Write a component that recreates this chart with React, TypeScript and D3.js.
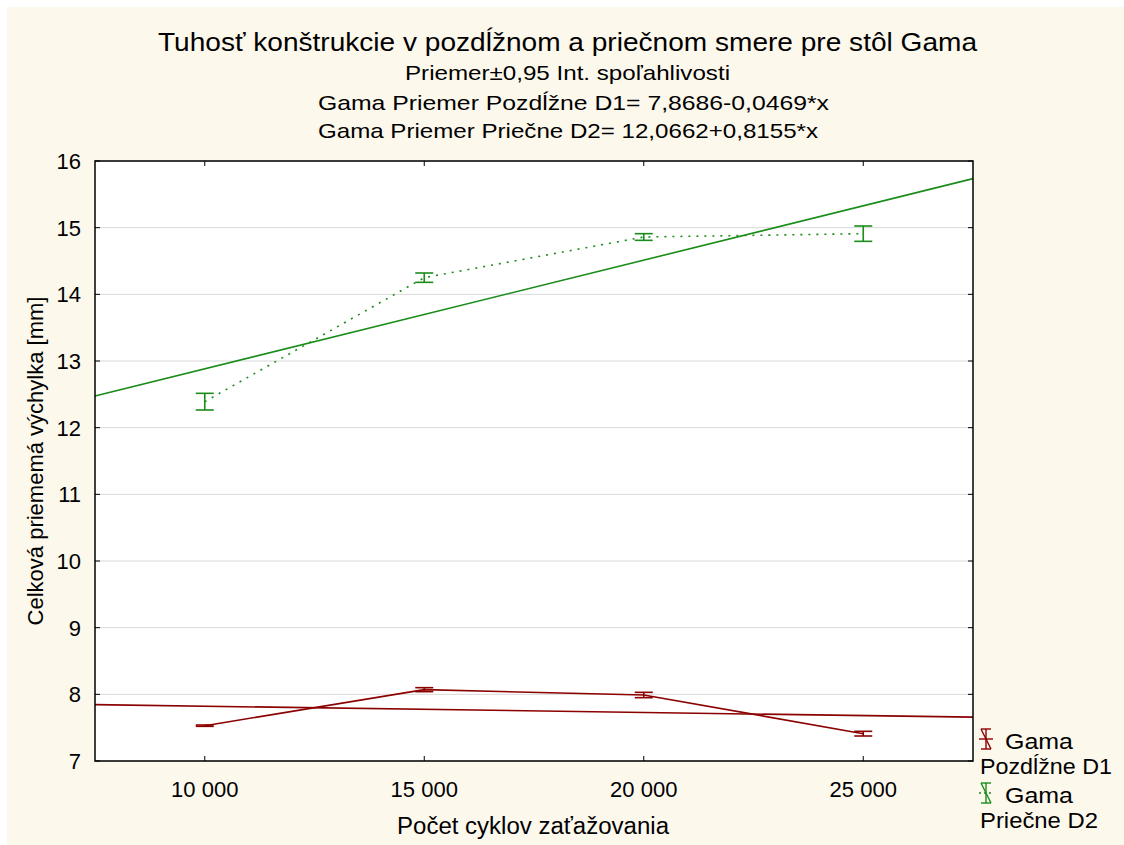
import React from "react";
import * as d3 from "d3";

const cycles = [10000, 15000, 20000, 25000];
const xTicks = [10000, 15000, 20000, 25000];
const yTicks = [7, 8, 9, 10, 11, 12, 13, 14, 15, 16];
const d1Mean = [7.53, 8.07, 7.99, 7.41];
const d1Err = [0.01, 0.03, 0.04, 0.035];
const d2Mean = [12.39, 14.25, 14.86, 14.91];
const d2Err = [0.125, 0.07, 0.05, 0.115];
const d1Fit = [7.8686, -0.0469];
const d2Fit = [12.0662, 0.8155];
const titleLines = [
  "Tuhosť konštrukcie v pozdĺžnom a priečnom smere pre stôl Gama",
  "Priemer±0,95 Int. spoľahlivosti",
  "Gama Priemer Pozdĺžne D1= 7,8686-0,0469*x",
  "Gama Priemer Priečne D2= 12,0662+0,8155*x",
];

const W = 1124, H = 845;
const L = 95, R = 973, T = 161, B = 761;
const RED = "#8B0000";
const GREEN = "#1A8C1A";
const FONT = "'Liberation Sans', Arial, sans-serif";

export default function App() {
  const x = d3.scaleLinear().domain([7500, 27500]).range([L, R]);
  const y = d3.scaleLinear().domain([7, 16]).range([B, T]);
  const idx = (c: number) => c / 5000 - 1;
  const line = d3.line<[number, number]>().x(d => x(d[0])).y(d => y(d[1]));
  const fitLine = (f: number[]) =>
    line([7500, 27500].map(c => [c, f[0] + f[1] * idx(c)] as [number, number]));
  const series = (m: number[]) => line(cycles.map((c, i) => [c, m[i]] as [number, number]));
  const cap = 9;
  const bars = (m: number[], e: number[], color: string) =>
    cycles.map((c, i) => {
      const cx = x(c), y0 = y(m[i] - e[i]), y1 = y(m[i] + e[i]);
      return (
        <g key={i} stroke={color} strokeWidth={1.6} fill="none">
          <line x1={cx} x2={cx} y1={y0} y2={y1} />
          <line x1={cx - cap} x2={cx + cap} y1={y0} y2={y0} />
          <line x1={cx - cap} x2={cx + cap} y1={y1} y2={y1} />
        </g>
      );
    });
  const legendIcon = (lx: number, ly: number, color: string, dashed: boolean) => (
    <g stroke={color} strokeWidth={1.4} fill="none">
      <line x1={lx} x2={lx + 10} y1={ly} y2={ly} />
      <line x1={lx} x2={lx + 10} y1={ly + 20} y2={ly + 20} />
      <line x1={lx + 5} x2={lx + 5} y1={ly} y2={ly + 20} />
      <line x1={lx} x2={lx + 10} y1={ly} y2={ly + 20} />
      <line x1={lx - 2} x2={lx + 12} y1={ly + 10} y2={ly + 10} strokeDasharray={dashed ? "2,3" : undefined} />
    </g>
  );
  const T2 = (props: any) => <text lengthAdjust="spacingAndGlyphs" fill="#000" {...props} />;
  return (
    <svg width={W} height={H} style={{ position: "absolute", left: 0, top: 0 }} fontFamily={FONT}>
      <rect x={0} y={0} width={W} height={H} fill="#fff" />
      <rect x={7} y={7} width={W - 7} height={H - 7} fill="#FDF8EC" />
      <rect x={L} y={T} width={R - L} height={B - T} fill="#fff" />
      {yTicks.map(t => (
        <line key={"g" + t} x1={L} x2={R} y1={y(t)} y2={y(t)} stroke="#d8d8d8" strokeWidth={1} />
      ))}
      <path d={fitLine(d1Fit) || ""} stroke={RED} strokeWidth={1.6} fill="none" />
      <path d={fitLine(d2Fit) || ""} stroke={GREEN} strokeWidth={1.6} fill="none" />
      <path d={series(d1Mean) || ""} stroke={RED} strokeWidth={1.6} fill="none" />
      <path d={series(d2Mean) || ""} stroke={GREEN} strokeWidth={1.6} fill="none" strokeDasharray="2,6" />
      {bars(d1Mean, d1Err, RED)}
      {bars(d2Mean, d2Err, GREEN)}
      <rect x={L} y={T} width={R - L} height={B - T} fill="none" stroke="#000" strokeWidth={1.5} />
      {yTicks.map(t => (
        <g key={"t" + t}>
          <line x1={L} x2={L + 5} y1={y(t)} y2={y(t)} stroke="#000" />
          <line x1={R - 5} x2={R} y1={y(t)} y2={y(t)} stroke="#000" />
          <text x={L - 14} y={y(t) + 8} textAnchor="end" fontSize={22} fill="#000">{t}</text>
        </g>
      ))}
      {xTicks.map(t => (
        <g key={"x" + t}>
          <line x1={x(t)} x2={x(t)} y1={B} y2={B - 5} stroke="#000" />
          <line x1={x(t)} x2={x(t)} y1={T} y2={T + 5} stroke="#000" />
          <text x={x(t)} y={B + 36} textAnchor="middle" fontSize={22} fill="#000">
            {d3.format(",")(t).replace(",", " ")}
          </text>
        </g>
      ))}
      <T2 x={397} y={834} fontSize={23} textLength={272}>Počet cyklov zaťažovania</T2>
      <text transform={`translate(43,${(T + B) / 2}) rotate(-90)`} textAnchor="middle" fontSize={22} fill="#000">
        Celková priememá výchylka [mm]
      </text>
      <T2 x={158} y={51} fontSize={26} textLength={819}>{titleLines[0]}</T2>
      <T2 x={405} y={80} fontSize={21} textLength={325}>{titleLines[1]}</T2>
      <T2 x={318} y={110} fontSize={21} textLength={511}>{titleLines[2]}</T2>
      <T2 x={318} y={138} fontSize={21} textLength={500}>{titleLines[3]}</T2>
      {legendIcon(981, 729, RED, false)}
      <T2 x={1005} y={749} fontSize={22} textLength={68}>Gama</T2>
      <T2 x={980} y={774} fontSize={22} textLength={132}>Pozdĺžne D1</T2>
      {legendIcon(981, 783, GREEN, true)}
      <T2 x={1005} y={803} fontSize={22} textLength={68}>Gama</T2>
      <T2 x={980} y={828} fontSize={22} textLength={118}>Priečne D2</T2>
    </svg>
  );
}
